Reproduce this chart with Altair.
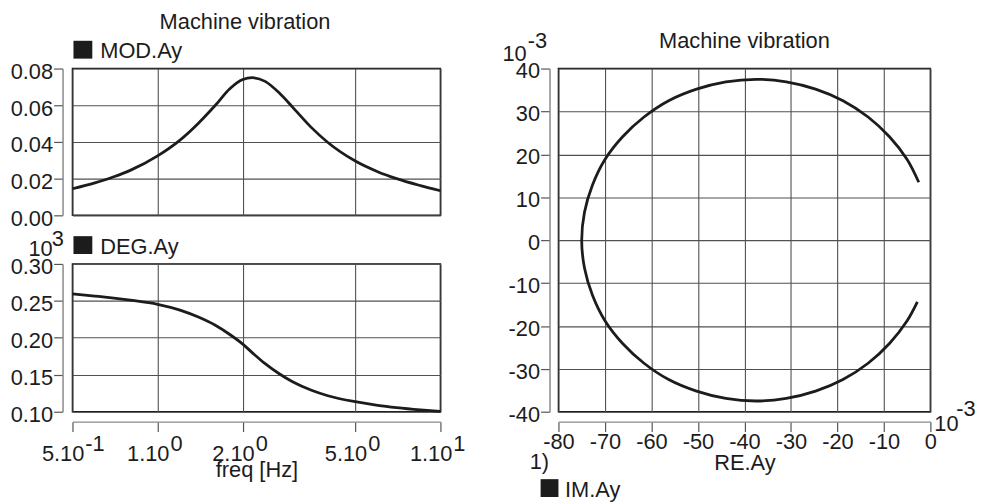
import altair as alt
import pandas as pd

FONT = "Liberation Sans"
FS = 22
INK = "#1c1c1c"
GRID = "#505050"
AXIS = "#8a8a8a"

# ---------------- data ----------------
freq = [0.5, 0.6, 0.7, 0.8, 1.0, 1.2, 1.4, 1.6, 1.8, 2.0, 2.16, 2.4, 2.7, 3.0,
        3.5, 4.0, 5.0, 6.0, 7.0, 8.5, 10.0]
mod_ay = [0.0145, 0.0177, 0.0210, 0.0245, 0.0324, 0.0410, 0.0505, 0.0600, 0.0690,
          0.0740, 0.0750, 0.0730, 0.0665, 0.0590, 0.0478, 0.0397, 0.0296, 0.0238,
          0.0200, 0.0162, 0.0134]
deg_ay = [0.2596, 0.2565, 0.2537, 0.2509, 0.2453, 0.2375, 0.2278, 0.2170, 0.2045,
          0.1915, 0.1800, 0.1650, 0.1510, 0.1405, 0.1290, 0.1216, 0.1135, 0.1087,
          0.1056, 0.1025, 0.1004]

# Nyquist locus (x 10^-3), from the low-frequency end round to the high-frequency end
re_ay = [-2.8, -5.0, -8.8, -13.4, -18.8, -24.7, -31.0, -37.5, -44.0, -50.3, -56.3,
         -61.6, -66.2, -70.0, -72.7, -74.4, -75.0, -74.4, -72.7, -70.0, -66.2, -61.6,
         -56.3, -50.3, -44.0, -37.5, -31.0, -24.7, -18.8, -13.4, -8.8, -5.0, -2.5]
im_ay = [-14.4, -18.8, -24.1, -28.7, -32.5, -35.2, -36.9, -37.5, -36.9, -35.2, -32.5,
         -28.7, -24.1, -18.8, -12.8, -6.5, 0.0, 6.5, 12.8, 18.8, 24.1, 28.7,
         32.5, 35.2, 36.9, 37.5, 36.9, 35.2, 32.5, 28.7, 24.1, 18.8, 13.5]

freq_ticks = [0.5, 1, 2, 5, 10]
freq_tick_base = ["5.10", "1.10", "2.10", "5.10", "1.10"]
freq_tick_exp = ["-1", "0", "0", "0", "1"]
mod_ticks = [0.0, 0.02, 0.04, 0.06, 0.08]
deg_ticks = [0.10, 0.15, 0.20, 0.25, 0.30]
re_ticks = [-80, -70, -60, -50, -40, -30, -20, -10, 0]
im_ticks = [-40, -30, -20, -10, 0, 10, 20, 30, 40]

df_mod = pd.DataFrame({"freq": freq, "val": mod_ay})
df_deg = pd.DataFrame({"freq": freq, "val": deg_ay})
df_ny = pd.DataFrame({"re": re_ay, "im": im_ay, "k": list(range(len(re_ay)))})
df_xt = pd.DataFrame({"freq": freq_ticks, "base": freq_tick_base, "exp": freq_tick_exp})
one = pd.DataFrame({"a": [0]})

LW, LH_TOP, LH_BOT = 371, 148, 149
RW, RH = 375, 346

xscale = alt.Scale(type="log", domain=[0.5, 10], nice=False)


def txt(text, x, y, align="left", size=FS, opacity=1):
    return alt.Chart(one).mark_text(
        text=text, align=align, baseline="alphabetic", font=FONT, fontSize=size,
        color=INK, opacity=opacity).encode(x=alt.value(x), y=alt.value(y))


def square(x1, x2, y1, y2):
    return alt.Chart(one).mark_rect(color=INK).encode(
        x=alt.value(x1), x2=alt.value(x2), y=alt.value(y1), y2=alt.value(y2))


yaxis_common = dict(offset=10, tickSize=9, labelPadding=1, title=None, grid=True,
                    domainColor=AXIS, domainWidth=1.5, labelOffset=3, labelFlush=False)

# ---------------- top left: MOD.Ay ----------------
x_top = alt.X("freq:Q", scale=xscale,
              axis=alt.Axis(values=freq_ticks, labels=False, ticks=False, domain=False,
                            grid=True, title=None))
y_top = alt.Y("val:Q", scale=alt.Scale(domain=[0, 0.08], nice=False),
              axis=alt.Axis(values=mod_ticks, format=".2f", **yaxis_common))
top = alt.layer(
    alt.Chart(df_mod).mark_line(color=INK, strokeWidth=2.8, interpolate="monotone")
    .encode(x=x_top, y=y_top),
    txt("Machine vibration", 174, -39.5, align="center", size=22),
    square(1, 20, -28, -10),
    txt("MOD.Ay", 28, -10.3),
).properties(width=LW, height=LH_TOP)

# ---------------- bottom left: DEG.Ay ----------------
x_bot = alt.X("freq:Q", scale=xscale,
              axis=alt.Axis(values=freq_ticks, labels=False, ticks=True, tickSize=10,
                            offset=10, domain=True, domainColor=AXIS, domainWidth=1.5,
                            grid=True, title="freq [Hz]", titleY=55,
                            titleBaseline="alphabetic"))
y_bot = alt.Y("val:Q", scale=alt.Scale(domain=[0.10, 0.30], nice=False),
              axis=alt.Axis(values=deg_ticks, format=".2f", **yaxis_common))
bottom = alt.layer(
    alt.Chart(df_deg).mark_line(color=INK, strokeWidth=2.8, interpolate="monotone")
    .encode(x=x_bot, y=y_bot),
    alt.Chart(df_xt).mark_text(align="right", baseline="alphabetic", dx=12, font=FONT,
                               fontSize=FS, color=INK)
    .encode(x=x_bot, y=alt.value(LH_BOT + 50), text="base:N"),
    alt.Chart(df_xt).mark_text(align="left", baseline="alphabetic", dx=13, font=FONT,
                               fontSize=FS, color=INK)
    .encode(x=x_bot, y=alt.value(LH_BOT + 40), text="exp:N"),
    txt("10", -20, -8, align="right"),
    txt("3", -21, -18),
    square(1, 20, -28, -10),
    txt("DEG.Ay", 28, -10.3),
).properties(width=LW, height=LH_BOT)

left = alt.vconcat(top, bottom, spacing=49, bounds="flush")

# ---------------- right: Nyquist ----------------
x_r = alt.X("re:Q", scale=alt.Scale(domain=[-80, 0], nice=False),
            axis=alt.Axis(values=re_ticks, labelExpr="'' + datum.value", offset=10,
                          tickSize=10, labelPadding=0, domainColor=AXIS, domainWidth=1.5,
                          grid=True, title="RE.Ay", titleY=48, labelFlush=False,
                          titleBaseline="alphabetic"))
y_r = alt.Y("im:Q", scale=alt.Scale(domain=[-40, 40], nice=False),
            axis=alt.Axis(values=im_ticks, labelExpr="'' + datum.value", offset=9,
                          tickSize=9, labelPadding=1, domainColor=AXIS, domainWidth=1.5,
                          grid=True, title=None, labelOffset=2.5, labelFlush=False))
right = alt.layer(
    alt.Chart(df_ny).mark_line(color=INK, strokeWidth=2.8, interpolate="catmull-rom")
    .encode(x=x_r, y=y_r, order="k:Q"),
    txt("Machine vibration", RW / 2, -21, align="center", size=22),
    txt("Machine vibration", RW / 2, -39.5, align="center", size=22, opacity=0),
    txt("10", -32, -8, align="right"),
    txt("-3", -31, -21),
    txt("10", RW + 4, RH + 19.7),
    txt("-3", RW + 26, RH + 4.7),
    txt("1)", -29, RH + 58),
    square(-18, 0, RH + 68, RH + 86),
    txt("IM.Ay", 6.6, RH + 86),
).properties(width=RW, height=RH)

chart = alt.hconcat(left, right, spacing=35).properties(
    padding={"left": 1, "top": 0, "right": 0, "bottom": 0}
).configure_view(
    stroke="#111111", strokeWidth=1.5
).configure_axis(
    labelFont=FONT, labelFontSize=FS, labelColor=INK, titleFont=FONT,
    titleFontSize=FS, titleFontWeight="normal", titleColor=INK,
    tickColor="#555555", tickWidth=1.2, gridColor=GRID, gridWidth=1.1,
    gridOpacity=1, domainOpacity=1
)

chart.save("out.html", embed_options={"renderer": "svg", "actions": False})
